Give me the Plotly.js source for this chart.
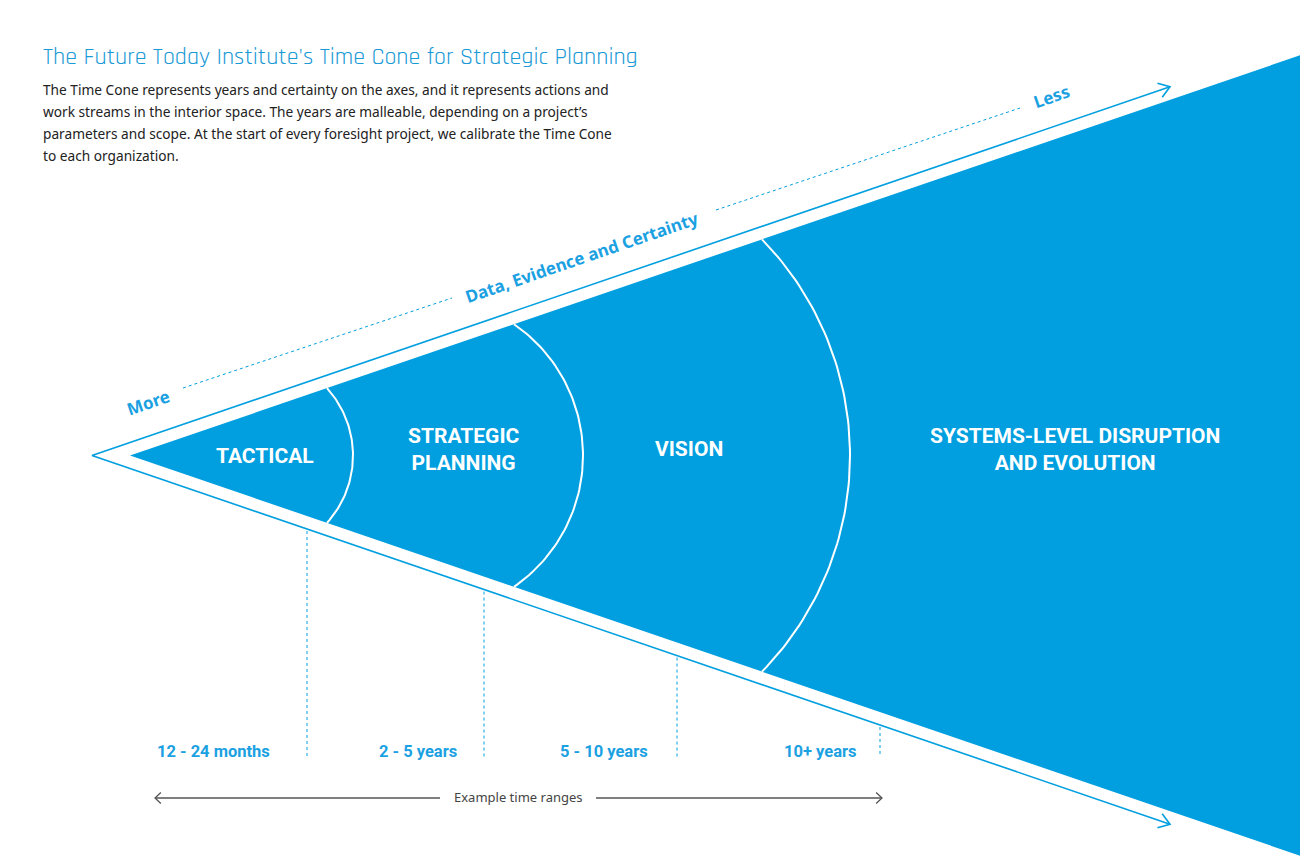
<!DOCTYPE html>
<html>
<head>
<meta charset="utf-8">
<script src="https://cdn.plot.ly/plotly-3.0.1.min.js"></script>
<style>html,body{margin:0;padding:0;background:#fff;}#chart{width:1300px;height:867px;}</style>
</head>
<body>
<div id="chart"></div>
<script>
// ---------- DATA ----------
const chartTitle = "The Future Today Institute's Time Cone for Strategic Planning";
const introLines = [
  "The Time Cone represents years and certainty on the axes, and it represents actions and",
  "work streams in the interior space. The years are malleable, depending on a project\u2019s",
  "parameters and scope. At the start of every foresight project, we calibrate the Time Cone",
  "to each organization."
];
const segments = ["TACTICAL", "STRATEGIC<br>PLANNING", "VISION", "SYSTEMS-LEVEL DISRUPTION<br>AND EVOLUTION"];
const timeRanges = ["12 - 24 months", "2 - 5 years", "5 - 10 years", "10+ years"];
const certaintyLabels = ["More", "Data, Evidence and Certainty", "Less"];
const rangeAxisLabel = "Example time ranges";

// ---------- GEOMETRY (layout, pixel-like units) ----------
const BLUE = "#019fdf";
const slope = 0.342;          // cone half-angle tangent
const cy = 455.5;             // cone axis
const coneApex = 130;
const outerApex = 92;
const outerEnd = 1170;
const xMax = 1300;
// arcs: [x where arc meets cone edge, x of arc bulge]
const arcs = [[327, 353], [514, 583], [762, 850]];
const segLabelPos = [[265, 456], [464, 449], [689, 449], [1075, 449]];
const dashX = [307, 484, 677, 880];
const timeLabelX = [213, 418, 604, 820];
const timeLabelY = 751;
const dashBottom = 757;

const traces = [];
const line = (xs, ys, color, width, dash) => traces.push({
  x: xs, y: ys, mode: "lines", type: "scatter", hoverinfo: "skip",
  line: {color: color, width: width, dash: dash || "solid"}, showlegend: false
});

// cone
traces.push({
  x: [coneApex, xMax, xMax, coneApex], y: [cy, cy - slope*(xMax-coneApex), cy + slope*(xMax-coneApex), cy],
  type: "scatter", mode: "lines", fill: "toself", fillcolor: BLUE, line: {color: BLUE, width: 0},
  hoverinfo: "skip", showlegend: false
});

// arcs
arcs.forEach(([xt, xb]) => {
  const h = slope*(xt - coneApex);
  const cx = (xb*xb - xt*xt - h*h) / (2*(xb - xt));
  const r = xb - cx;
  const th = Math.atan2(h, xt - cx);
  const xs = [], ys = [];
  for (let i = 0; i <= 80; i++) {
    const a = -th + 2*th*i/80;
    xs.push(cx + r*Math.cos(a)); ys.push(cy + r*Math.sin(a));
  }
  line(xs, ys, "#ffffff", 2);
});

// chevron helper
function chevron(tx, ty, dx, dy, len, ang, color, width) {
  const n = Math.hypot(dx, dy); dx /= n; dy /= n;
  const bx = -dx, by = -dy;
  const rot = (a) => [bx*Math.cos(a) - by*Math.sin(a), bx*Math.sin(a) + by*Math.cos(a)];
  const [ax1, ay1] = rot(ang), [ax2, ay2] = rot(-ang);
  line([tx + len*ax1, tx, tx + len*ax2], [ty + len*ay1, ty, ty + len*ay2], color, width);
}

// outer arrows
const topEndY = cy - slope*(outerEnd - outerApex);
const botEndY = cy + slope*(outerEnd - outerApex);
line([outerEnd, outerApex, outerEnd], [topEndY, cy, botEndY], BLUE, 1.6);
chevron(outerEnd, topEndY, 1, -slope, 13, 0.6, BLUE, 1.6);
chevron(outerEnd, botEndY, 1, slope, 13, 0.6, BLUE, 1.6);

// dashed verticals
dashX.forEach(x => {
  line([x, x], [cy + slope*(x - outerApex) + 2, dashBottom], BLUE, 1, "3px,3px");
});

// certainty dashed line
line([183, 452], [388, 298], BLUE, 1, "3px,3px");
line([716, 1020], [210, 108], BLUE, 1, "3px,3px");

// example time ranges arrow
line([155, 440], [798, 798], "#555555", 1.3);
line([596, 882], [798, 798], "#555555", 1.3);
chevron(155, 798, -1, 0, 8, 0.75, "#555555", 1.3);
chevron(882, 798, 1, 0, 8, 0.75, "#555555", 1.3);

// ---------- ANNOTATIONS ----------
const COND = "Roboto, 'Noto Sans', sans-serif";
const ann = [];
ann.push({x: 41, y: 57, text: chartTitle, xanchor: "left", yanchor: "middle", showarrow: false,
  font: {family: "Rajdhani, 'Noto Sans', sans-serif", size: 24, color: "#1c9ad6"}});
introLines.forEach((t, i) => ann.push({x: 41, y: 89 + 22*i, text: t, xanchor: "left", yanchor: "middle", showarrow: false,
  font: {family: "'Noto Sans', sans-serif", size: 13.7, color: "#222222"}}));
segments.forEach((t, i) => ann.push({x: segLabelPos[i][0], y: segLabelPos[i][1], text: "<b>" + t + "</b>",
  xanchor: "center", yanchor: "middle", showarrow: false,
  font: {family: COND, size: 21, color: "#ffffff"}}));
timeRanges.forEach((t, i) => ann.push({x: timeLabelX[i], y: timeLabelY, text: "<b>" + t + "</b>",
  xanchor: "center", yanchor: "middle", showarrow: false,
  font: {family: COND, size: 16.5, color: "#1ba1e2"}}));
ann.push({x: 518, y: 797, text: rangeAxisLabel, xanchor: "center", yanchor: "middle", showarrow: false,
  font: {family: "'Noto Sans', sans-serif", size: 13, color: "#444444"}});
const certPos = [[148, 402], [581, 257], [1051, 96]];
certaintyLabels.forEach((t, i) => ann.push({x: certPos[i][0], y: certPos[i][1], text: "<b>" + t + "</b>",
  xanchor: "center", yanchor: "middle", showarrow: false, textangle: -19,
  font: {family: "'Noto Sans', sans-serif", size: 17, color: "#1ba1e2"}}));

const layout = {
  width: 1300, height: 867, margin: {l: 0, r: 0, t: 0, b: 0},
  paper_bgcolor: "#ffffff", plot_bgcolor: "#ffffff",
  xaxis: {range: [0, 1300], visible: false, fixedrange: true},
  yaxis: {range: [867, 0], visible: false, fixedrange: true},
  annotations: ann, showlegend: false
};
Plotly.newPlot("chart", traces, layout, {displayModeBar: false, staticPlot: true});
</script>
</body>
</html>
